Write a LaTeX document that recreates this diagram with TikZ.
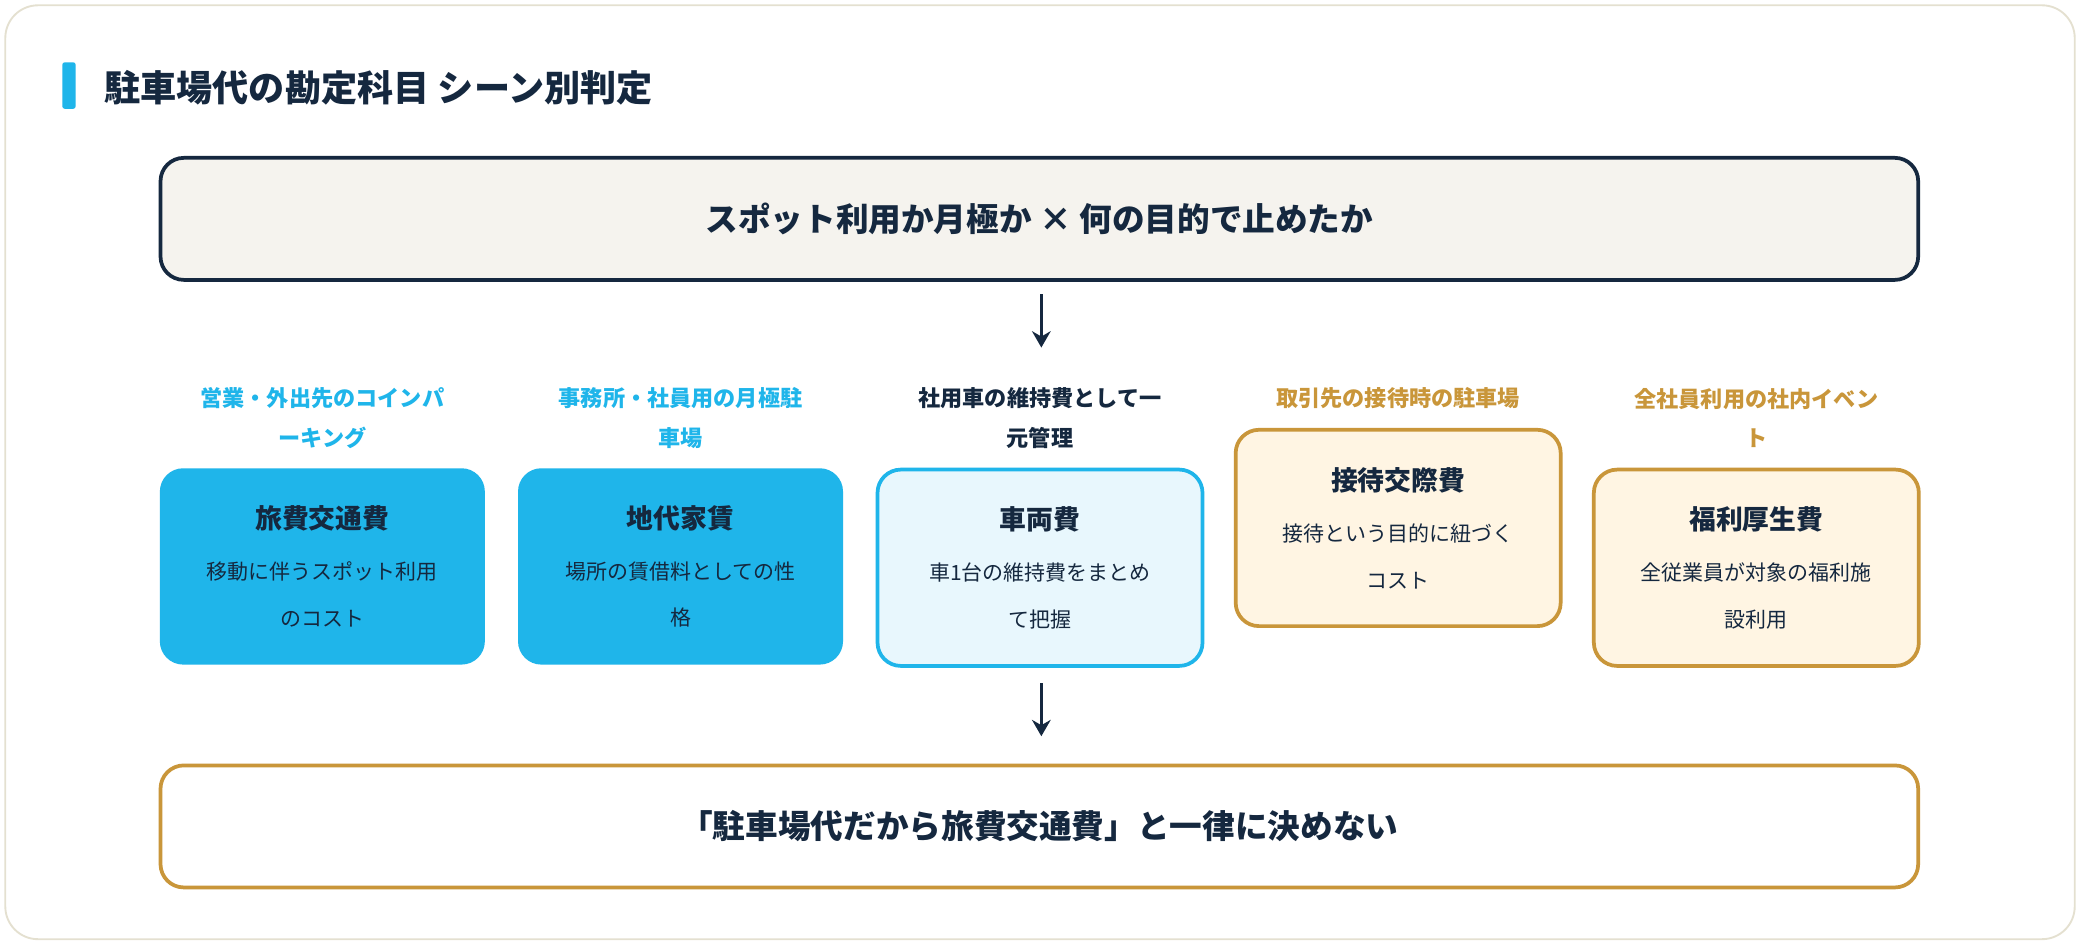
\documentclass[tikz,border=0pt]{standalone}
\usepackage{fontspec}
\setmainfont{Noto Sans CJK JP}
\usetikzlibrary{arrows.meta,positioning}
\definecolor{navy}{HTML}{15283F}
\definecolor{skyblue}{HTML}{1FB5EA}
\definecolor{paleblue}{HTML}{E8F7FD}
\definecolor{gold}{HTML}{C9963A}
\definecolor{cream}{HTML}{FFF5E3}
\definecolor{paper}{HTML}{F5F3EE}
\definecolor{frame}{HTML}{E4E0D0}
\tikzset{
  wide/.style={draw, line width=1.6pt, rounded corners=10pt, minimum width=26.5cm,
    minimum height=1.84cm, text=navy, font=\fontsize{14}{16}\selectfont\bfseries},
  card/.style={rounded corners=10pt, line width=1.6pt, minimum width=4.9cm,
    minimum height=2.96cm, align=center, text=navy, font=\fontsize{9}{20}\selectfont},
  bluecard/.style={card, fill=skyblue},
  lightcard/.style={card, fill=paleblue, draw=skyblue},
  goldcard/.style={card, fill=cream, draw=gold},
  tag/.style={align=center, font=\fontsize{9.5}{17}\selectfont\bfseries},
  flow/.style={-{Stealth[length=7pt,width=8pt]}, line width=1.4pt, navy}
}
\newcommand{\cardtitle}[1]{{\fontsize{11.5}{14}\selectfont\bfseries #1}\\[2pt]}
\begin{document}
\begin{tikzpicture}
\useasboundingbox (0,0) rectangle (31.36,-14.24);
\draw[frame, line width=0.8pt, fill=white, rounded corners=14pt] (0.08,-0.08) rectangle (31.28,-14.16);
% title
\fill[skyblue, rounded corners=1pt] (0.94,-0.94) rectangle (1.14,-1.64);
\node[anchor=west, text=navy, font=\fontsize{15.5}{18}\selectfont\bfseries] (title) at (1.45,-1.32) {駐車場代の勘定科目 シーン別判定};
% question
\node[wide, fill=paper, draw=navy] (question) at (15.67,-3.3) {スポット利用か月極か × 何の目的で止めたか};
\coordinate (q1) at (15.7,-4.44);
\coordinate (q2) at (15.7,-5.24);
\draw[flow] (q1) -- (q2);
% scenes
\node[tag, text=skyblue] (tag1) at (4.86,-6.3) {営業・外出先のコインパ\\ーキング};
\node[tag, text=skyblue] (tag2) at (10.26,-6.3) {事務所・社員用の月極駐\\車場};
\node[tag, text=navy] (tag3) at (15.68,-6.3) {社用車の維持費として一\\元管理};
\node[tag, text=gold] (tag4) at (21.08,-6.0) {取引先の接待時の駐車場};
\node[tag, text=gold] (tag5) at (26.48,-6.3) {全社員利用の社内イベン\\ト};
\node[bluecard] (travel) at (4.86,-8.54) {\cardtitle{旅費交通費}移動に伴うスポット利用\\のコスト};
\node[bluecard] (rent) at (10.26,-8.54) {\cardtitle{地代家賃}場所の賃借料としての性\\格};
\node[lightcard] (vehicle) at (15.68,-8.56) {\cardtitle{車両費}車1台の維持費をまとめ\\て把握};
\node[goldcard] (enter) at (21.08,-7.96) {\cardtitle{接待交際費}接待という目的に紐づく\\コスト};
\node[goldcard] (welfare) at (26.48,-8.56) {\cardtitle{福利厚生費}全従業員が対象の福利施\\設利用};
\coordinate (v1) at (15.7,-10.3);
\coordinate (v2) at (15.7,-11.1);
\draw[flow] (v1) -- (v2);
% conclusion
\node[wide, fill=white, draw=gold] (rule) at (15.67,-12.46) {「駐車場代だから旅費交通費」と一律に決めない};
\end{tikzpicture}
\end{document}
